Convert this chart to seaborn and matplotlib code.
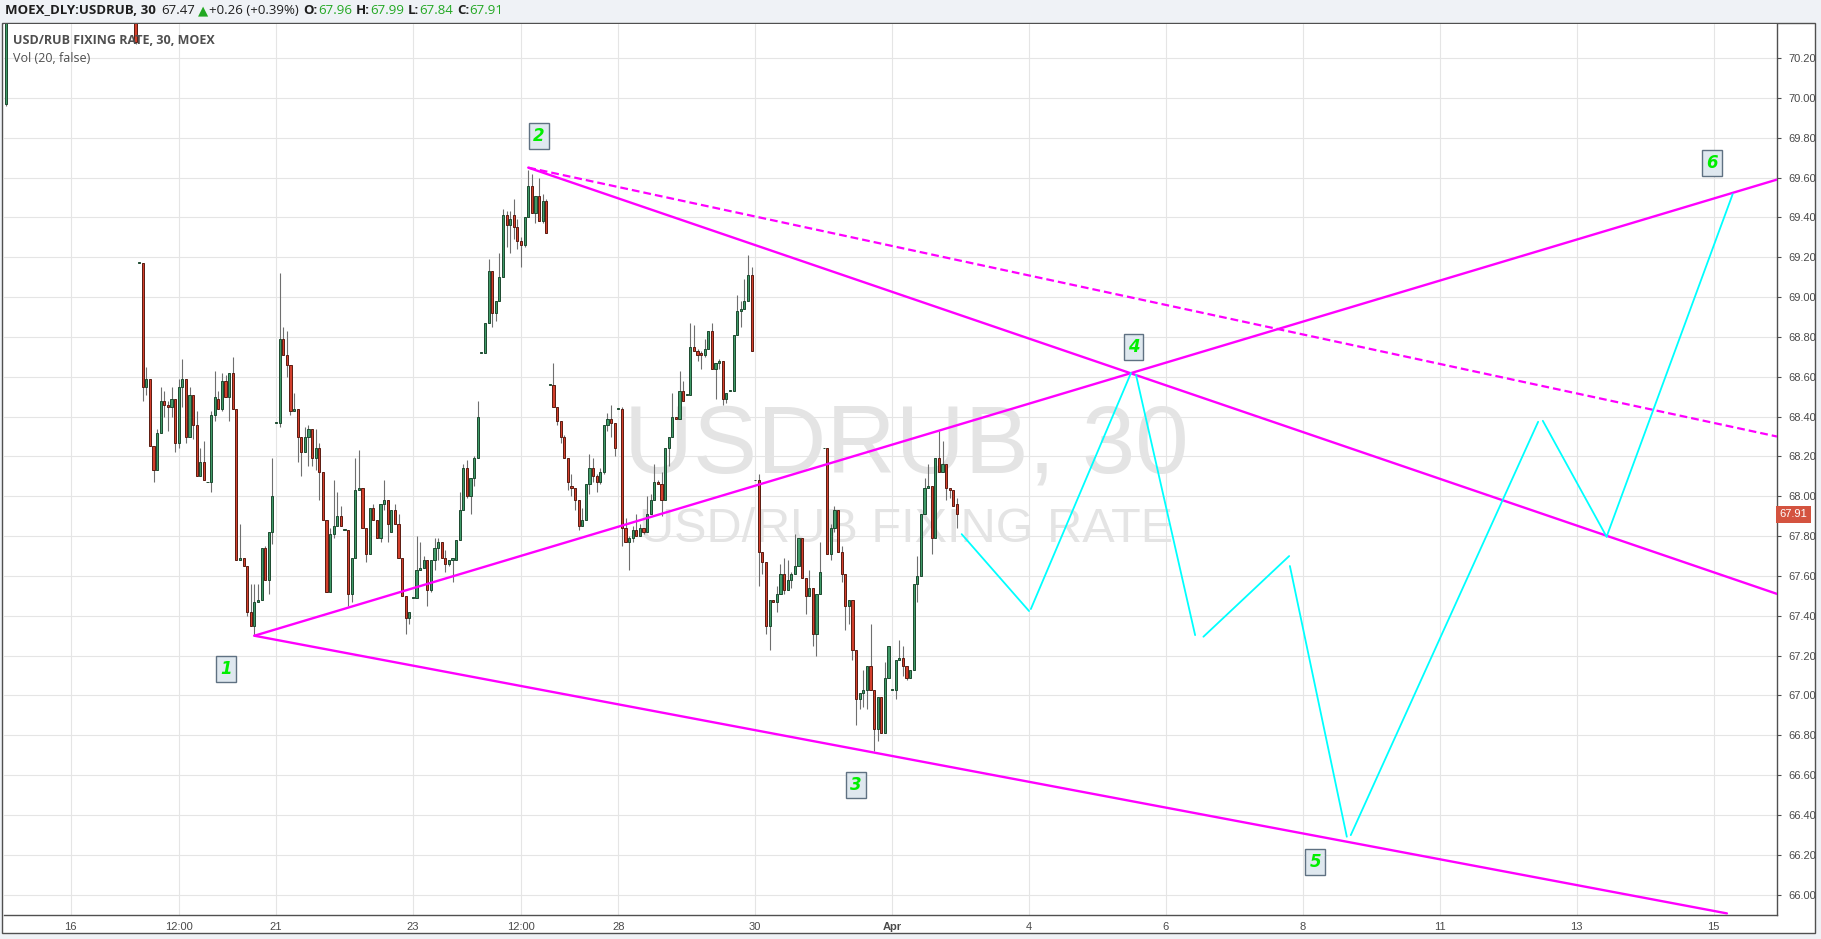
import numpy as np
import pandas as pd
import seaborn as sns
import matplotlib.pyplot as plt
from matplotlib.patches import Rectangle
from matplotlib.transforms import blended_transform_factory

# bar index (30 min bars), 0 = first bar of the 19 March session
bars = [-37, -1] + list(range(228))

opens = [69.97, 70.50,
    69.17, 69.17, 68.55, 68.59, 68.25, 68.13, 68.32, 68.48, 68.46, 68.45,
    68.49, 68.27, 68.55, 68.59, 68.30, 68.51, 68.36, 68.10, 68.17, 68.07,
    68.07, 68.41, 68.49, 68.44, 68.58, 68.50, 68.62, 68.44, 67.68, 67.69,
    67.65, 67.42, 67.35, 67.47, 67.48, 67.74, 67.58, 67.82, 68.37, 68.37,
    68.79, 68.71, 68.66, 68.43, 68.44, 68.30, 68.22, 68.30, 68.34, 68.19,
    68.24, 68.12, 67.88, 67.52, 67.81, 67.85, 67.90, 67.83, 67.83, 67.51,
    67.69, 68.03, 68.04, 67.84, 67.71, 67.94, 67.88, 67.79, 67.96, 67.98,
    67.82, 67.93, 67.86, 67.69, 67.50, 67.39, 67.49, 67.49, 67.63, 67.64,
    67.68, 67.53, 67.68, 67.74, 67.77, 67.69, 67.66, 67.68, 67.68, 67.78,
    67.93, 68.14, 68.00, 68.09, 68.19, 68.72, 68.72, 68.87, 69.13, 68.92,
    68.98, 69.10, 69.41, 69.36, 69.41, 69.35, 69.28, 69.26, 69.40, 69.56,
    69.42, 69.51, 69.38, 69.48, 68.56, 68.56, 68.45, 68.38, 68.30, 68.19,
    68.05, 68.04, 67.98, 67.85, 67.88, 68.06, 68.14, 68.10, 68.07, 68.12,
    68.36, 68.39, 68.37, 68.44, 68.44, 67.84, 67.77, 67.79, 67.83, 67.80,
    67.84, 67.82, 67.91, 67.98, 68.07, 68.06, 67.98, 68.24, 68.30, 68.40,
    68.39, 68.53, 68.51, 68.51, 68.75, 68.73, 68.72, 68.71, 68.74, 68.83,
    68.64, 68.67, 68.68, 68.49, 68.53, 68.53, 68.81, 68.93, 68.94, 68.98,
    69.11, 68.08, 68.08, 67.72, 67.67, 67.35, 67.48, 67.47, 67.51, 67.61,
    67.53, 67.58, 67.61, 67.65, 67.79, 67.59, 67.50, 67.54, 67.31, 67.51,
    68.24, 68.24, 67.71, 67.84, 67.93, 67.72, 67.61, 67.45, 67.48, 67.23,
    66.98, 67.01, 67.03, 67.15, 67.03, 66.83, 66.99, 66.81, 67.09, 67.03,
    67.03, 67.18, 67.19, 67.15, 67.09, 67.13, 67.56, 67.60, 67.91, 68.04,
    68.05, 67.79, 68.19, 68.12, 68.16, 68.04, 68.03, 67.96]

highs = [70.50, 70.50,
    69.17, 69.17, 68.65, 68.59, 68.25, 68.34, 68.55, 68.53, 68.48, 68.55,
    68.49, 68.59, 68.69, 68.59, 68.55, 68.51, 68.43, 68.24, 68.28, 68.07,
    68.43, 68.63, 68.53, 68.62, 68.61, 68.62, 68.70, 68.44, 67.86, 67.69,
    67.65, 67.56, 67.56, 67.56, 67.74, 67.75, 67.82, 68.19, 68.37, 69.12,
    68.85, 68.83, 68.66, 68.52, 68.44, 68.30, 68.35, 68.36, 68.34, 68.34,
    68.27, 68.12, 67.88, 67.84, 68.08, 68.02, 67.95, 67.83, 67.83, 67.69,
    68.19, 68.23, 68.04, 67.84, 67.94, 67.96, 67.88, 67.96, 68.08, 67.98,
    67.93, 67.96, 67.91, 67.69, 67.50, 67.42, 67.49, 67.80, 67.77, 67.70,
    67.68, 67.68, 67.79, 67.79, 67.77, 67.73, 67.68, 67.68, 67.78, 68.02,
    68.16, 68.18, 68.09, 68.20, 68.48, 68.72, 68.87, 69.19, 69.13, 68.98,
    69.22, 69.44, 69.43, 69.43, 69.49, 69.39, 69.30, 69.40, 69.64, 69.62,
    69.51, 69.60, 69.52, 69.49, 68.56, 68.67, 68.45, 68.38, 68.31, 68.19,
    68.11, 68.04, 67.98, 67.94, 68.06, 68.21, 68.19, 68.11, 68.14, 68.36,
    68.42, 68.46, 68.37, 68.44, 68.45, 67.89, 67.80, 67.85, 67.91, 67.86,
    67.84, 68.00, 68.01, 68.16, 68.08, 68.12, 68.24, 68.30, 68.52, 68.40,
    68.63, 68.58, 68.51, 68.87, 68.86, 68.74, 68.73, 68.79, 68.83, 68.87,
    68.67, 68.69, 68.68, 68.52, 68.53, 68.81, 69.01, 68.98, 69.09, 69.21,
    69.15, 68.08, 68.11, 67.72, 67.67, 67.48, 67.48, 67.55, 67.66, 67.69,
    67.68, 67.62, 67.81, 67.79, 67.79, 67.59, 67.63, 67.54, 67.51, 67.77,
    68.24, 68.24, 67.86, 67.95, 67.93, 67.75, 67.61, 67.48, 67.48, 67.23,
    67.01, 67.13, 67.15, 67.36, 67.03, 66.99, 66.99, 67.17, 67.25, 67.03,
    67.18, 67.28, 67.25, 67.15, 67.13, 67.56, 67.70, 67.91, 68.09, 68.16,
    68.05, 68.19, 68.33, 68.28, 68.16, 68.04, 68.03, 67.99]

lows = [69.96, 70.27,
    69.17, 68.48, 68.51, 68.25, 68.07, 68.13, 68.32, 68.40, 68.33, 68.40,
    68.22, 68.24, 68.45, 68.27, 68.30, 68.29, 68.10, 68.10, 68.08, 68.07,
    68.02, 68.38, 68.44, 68.43, 68.50, 68.38, 68.44, 67.68, 67.68, 67.65,
    67.40, 67.35, 67.30, 67.47, 67.48, 67.58, 67.51, 67.76, 68.37, 68.35,
    68.71, 68.60, 68.41, 68.43, 68.17, 68.10, 68.22, 68.15, 68.15, 68.13,
    67.98, 67.88, 67.52, 67.52, 67.79, 67.85, 67.85, 67.83, 67.45, 67.47,
    67.69, 68.03, 67.84, 67.67, 67.71, 67.88, 67.79, 67.77, 67.93, 67.77,
    67.82, 67.86, 67.69, 67.50, 67.31, 67.36, 67.49, 67.49, 67.63, 67.64,
    67.45, 67.52, 67.63, 67.68, 67.69, 67.62, 67.65, 67.57, 67.68, 67.78,
    67.93, 67.99, 67.91, 68.05, 68.19, 68.72, 68.72, 68.87, 68.85, 68.88,
    68.98, 69.10, 69.25, 69.22, 69.29, 69.24, 69.15, 69.25, 69.40, 69.42,
    69.37, 69.38, 69.37, 69.32, 68.56, 68.45, 68.36, 68.27, 68.19, 68.03,
    68.00, 67.93, 67.83, 67.85, 67.88, 68.01, 68.07, 68.02, 68.06, 68.11,
    68.33, 68.30, 68.20, 68.44, 67.75, 67.77, 67.63, 67.77, 67.80, 67.80,
    67.81, 67.82, 67.91, 67.98, 68.06, 67.90, 67.98, 68.15, 68.30, 68.39,
    68.39, 68.48, 68.51, 68.51, 68.73, 68.68, 68.64, 68.70, 68.74, 68.64,
    68.49, 68.64, 68.46, 68.47, 68.53, 68.53, 68.81, 68.85, 68.94, 68.98,
    68.73, 68.08, 67.55, 67.61, 67.31, 67.23, 67.47, 67.42, 67.51, 67.51,
    67.53, 67.54, 67.61, 67.65, 67.59, 67.41, 67.50, 67.25, 67.20, 67.51,
    68.24, 67.71, 67.68, 67.82, 67.72, 67.57, 67.33, 67.36, 67.18, 66.85,
    66.93, 66.94, 66.93, 67.03, 66.72, 66.77, 66.81, 66.81, 67.09, 67.03,
    66.98, 67.18, 67.10, 67.08, 67.09, 67.13, 67.47, 67.60, 67.91, 68.04,
    67.71, 67.79, 68.12, 68.12, 67.98, 67.99, 67.95, 67.84]

closes = [70.45, 70.28,
    69.17, 68.55, 68.59, 68.25, 68.13, 68.32, 68.48, 68.46, 68.45, 68.49,
    68.27, 68.55, 68.59, 68.30, 68.51, 68.36, 68.10, 68.17, 68.08, 68.07,
    68.41, 68.50, 68.44, 68.58, 68.50, 68.62, 68.44, 67.68, 67.69, 67.65,
    67.42, 67.35, 67.47, 67.48, 67.74, 67.58, 67.82, 68.00, 68.37, 68.79,
    68.71, 68.66, 68.43, 68.44, 68.30, 68.22, 68.30, 68.34, 68.19, 68.24,
    68.12, 67.88, 67.52, 67.81, 67.85, 67.90, 67.85, 67.83, 67.51, 67.69,
    68.03, 68.04, 67.84, 67.71, 67.94, 67.88, 67.79, 67.96, 67.98, 67.86,
    67.93, 67.86, 67.69, 67.50, 67.39, 67.42, 67.49, 67.63, 67.64, 67.68,
    67.53, 67.68, 67.74, 67.77, 67.69, 67.66, 67.68, 67.69, 67.78, 67.93,
    68.14, 68.00, 68.09, 68.19, 68.40, 68.72, 68.87, 69.13, 68.92, 68.98,
    69.10, 69.41, 69.36, 69.39, 69.35, 69.28, 69.26, 69.40, 69.56, 69.42,
    69.51, 69.38, 69.48, 69.32, 68.56, 68.45, 68.38, 68.30, 68.19, 68.07,
    68.04, 67.98, 67.85, 67.88, 68.06, 68.14, 68.10, 68.07, 68.12, 68.36,
    68.39, 68.37, 68.24, 68.44, 67.84, 67.77, 67.79, 67.83, 67.80, 67.84,
    67.82, 67.91, 67.98, 68.07, 68.06, 67.98, 68.24, 68.30, 68.40, 68.39,
    68.53, 68.48, 68.51, 68.75, 68.73, 68.71, 68.71, 68.74, 68.83, 68.64,
    68.67, 68.68, 68.49, 68.52, 68.53, 68.81, 68.93, 68.94, 68.98, 69.11,
    68.73, 68.08, 67.72, 67.67, 67.35, 67.48, 67.47, 67.51, 67.61, 67.53,
    67.58, 67.61, 67.65, 67.79, 67.59, 67.50, 67.54, 67.31, 67.51, 67.62,
    68.24, 67.71, 67.84, 67.93, 67.72, 67.61, 67.45, 67.48, 67.23, 66.98,
    67.01, 67.03, 67.15, 67.03, 66.83, 66.99, 66.81, 67.09, 67.25, 67.03,
    67.18, 67.19, 67.15, 67.09, 67.13, 67.56, 67.60, 67.91, 68.04, 68.05,
    67.79, 68.19, 68.12, 68.16, 68.04, 68.03, 67.95, 67.91]

# magenta trend lines (start bar, start price, end bar, end price)
trend_names = ["1-4", "1-3", "2-4"]
trend_x0 = [32, 32, 108]
trend_y0 = [67.30, 67.30, 69.65]
trend_x1 = [454.6, 440.7, 454.6]
trend_y1 = [69.59, 65.906, 67.51]
dash_x0, dash_y0, dash_x1, dash_y1 = 108, 69.65, 454.6, 68.30

# cyan projected path, drawn as separate segments
cyan_x0 = [228.3, 247.5, 276.7, 295.4, 319.4, 336.3, 389.6, 407.3]
cyan_y0 = [67.81, 67.434, 68.609, 67.295, 67.65, 66.299, 68.379, 67.797]
cyan_x1 = [247.0, 275.3, 293.1, 319.2, 335.2, 388.3, 407.3, 442.3]
cyan_y1 = [67.424, 68.619, 67.303, 67.70, 66.291, 68.374, 67.797, 69.517]

wave_labels = ["1", "2", "3", "4", "5", "6"]
wave_bar = [24.1, 111.0, 199.0, 276.0, 326.4, 436.6]
wave_price = [67.134, 69.809, 66.55, 68.748, 66.165, 69.673]

price_ticks = [66.00, 66.20, 66.40, 66.60, 66.80, 67.00, 67.20, 67.40, 67.60, 67.80,
               68.00, 68.20, 68.40, 68.60, 68.80, 69.00, 69.20, 69.40, 69.60, 69.80,
               70.00, 70.20]
time_ticks = [-19, 11, 38, 76, 106, 133, 171, 209, 247, 285, 323, 361, 399, 437]
time_labels = ["16", "12:00", "21", "23", "12:00", "28", "30", "Apr",
               "4", "6", "8", "11", "13", "15"]
last_price = 67.91

header_parts = [("MOEX_DLY:USDRUB, 30", "#1e1e1e", "bold", 5),
                ("67.47", "#1e1e1e", "normal", 3),
                ("\u25b2", "#22a822", "normal", 1),
                ("+0.26 (+0.39%)", "#1e1e1e", "normal", 5),
                ("O:", "#1e1e1e", "bold", 0), ("67.96", "#22a822", "normal", 4),
                ("H:", "#1e1e1e", "bold", 0), ("67.99", "#22a822", "normal", 4),
                ("L:", "#1e1e1e", "bold", 0), ("67.84", "#22a822", "normal", 4),
                ("C:", "#1e1e1e", "bold", 0), ("67.91", "#22a822", "normal", 0)]

sns.set_style("white")
plt.rcParams['font.family'] = ['Open Sans', 'DejaVu Sans']

W, H = 1821, 939
fig = plt.figure(figsize=(W / 100, H / 100), dpi=100)
fig.patch.set_facecolor('#eff2f6')


def fx(px):
    return px / W


def fy(py):
    return 1 - py / H


panel = Rectangle((fx(2), fy(933)), fx(1815) - fx(2), fy(23) - fy(933),
                  transform=fig.transFigure, facecolor='white',
                  edgecolor='#505050', lw=1, zorder=-5)
fig.patches.append(panel)

ax = fig.add_axes([fx(4), fy(915), fx(1777) - fx(4), fy(24) - fy(915)])
ax.set_facecolor('white')
ax.set_xlim(-37.5, 454.6)
ax.set_ylim(65.898, 70.371)

# grid + axes
ax.set_axisbelow(True)
ax.grid(True, color='#e5e5e5', lw=0.8)
for s in ['top', 'left']:
    ax.spines[s].set_visible(False)
for s in ['right', 'bottom']:
    ax.spines[s].set_color('#505050')
    ax.spines[s].set_linewidth(1)
ax.yaxis.tick_right()
ax.set_yticks(price_ticks)
ax.set_yticklabels([f"{v:.2f}" for v in price_ticks])
ax.set_xticks(time_ticks)
ax.set_xticklabels(time_labels)
ax.tick_params(axis='y', direction='out', length=3, width=0.8, color='#505050',
               pad=5, labelsize=8, labelcolor='#4a4a4a')
ax.tick_params(axis='x', direction='out', length=3, width=0.8, color='#505050',
               pad=2, labelsize=8, labelcolor='#4a4a4a')
for lbl in ax.get_yticklabels() + ax.get_xticklabels():
    lbl.set_fontfamily('Liberation Sans')
    if lbl.get_text() == 'Apr':
        lbl.set_fontweight('bold')

# watermark
ax.text(0.509, 0.497, "USDRUB, 30", transform=ax.transAxes, ha='center',
        va='baseline', fontsize=69, color='#e4e4e4', family='Liberation Sans', zorder=1)
ax.text(0.509, 0.4186, "USD/RUB FIXING RATE", transform=ax.transAxes, ha='center',
        va='baseline', fontsize=35, color='#e4e4e4', family='Liberation Sans', zorder=1)

# candles
x = np.array(bars)
o = np.array(opens)
h = np.array(highs)
l = np.array(lows)
c = np.array(closes)
up = c >= o
body_lo = np.minimum(o, c)
body_h = np.maximum(np.abs(c - o), 0.004)
ax.vlines(x, l, h, color='#6f6f6f', lw=0.8, zorder=2)
ax.bar(x[up], body_h[up], bottom=body_lo[up], width=0.6, color='#3f9a68',
       edgecolor='#1d4a30', linewidth=0.7, zorder=3)
ax.bar(x[~up], body_h[~up], bottom=body_lo[~up], width=0.6, color='#d33f2c',
       edgecolor='#5a1c12', linewidth=0.7, zorder=3)

# trend lines
trend_df = pd.DataFrame({
    "line": trend_names * 2,
    "bar": trend_x0 + trend_x1,
    "price": trend_y0 + trend_y1,
})
sns.lineplot(data=trend_df, x="bar", y="price", units="line", estimator=None,
             sort=False, color='#ff00ff', lw=1.7, ax=ax, legend=False, zorder=4)
dash_df = pd.DataFrame({"bar": [dash_x0, dash_x1], "price": [dash_y0, dash_y1]})
sns.lineplot(data=dash_df, x="bar", y="price", estimator=None, sort=False,
             color='#ff00ff', lw=1.6, linestyle=(0, (3.5, 1.8)), ax=ax,
             legend=False, zorder=4)

seg_ids = list(range(len(cyan_x0)))
cyan_df = pd.DataFrame({
    "seg": seg_ids * 2,
    "bar": cyan_x0 + cyan_x1,
    "price": cyan_y0 + cyan_y1,
})
sns.lineplot(data=cyan_df, x="bar", y="price", units="seg", estimator=None,
             sort=False, color='#00ffff', lw=1.3, ax=ax, legend=False, zorder=4)
ax.set_xlabel("")
ax.set_ylabel("")

# wave labels
for lab, bx, py in zip(wave_labels, wave_bar, wave_price):
    ax.text(bx, py, lab, ha='center', va='center', fontsize=12, color='#00ee00',
            fontweight='bold', fontstyle='italic', family='DejaVu Sans', zorder=6,
            bbox=dict(boxstyle='square,pad=0.25', fc='#dfe8ef', ec='#5f7182', lw=1))

# last price tag
tr = blended_transform_factory(ax.transAxes, ax.transData)
ax.text(1.0015, last_price, f"{last_price:.2f}", transform=tr, ha='left',
        va='center', fontsize=8, color='white', family='Liberation Sans', zorder=7,
        bbox=dict(boxstyle='square,pad=0.3', fc='#d4533f', ec='none'))

# legend texts on chart
fig.text(fx(13), fy(41), "USD/RUB FIXING RATE, 30, MOEX", fontsize=9,
         fontweight='bold', color='#4f4f4f', va='center', ha='left')
fig.text(fx(13), fy(58), "Vol (20, false)", fontsize=9, color='#4f4f4f',
         va='center', ha='left')

# header line
renderer = fig.canvas.get_renderer()
xpos = 5
for txt, col, wt, gap in header_parts:
    t = fig.text(fx(xpos), fy(11), txt, fontsize=9.5, fontweight=wt, color=col,
                 va='center', ha='left')
    bb = t.get_window_extent(renderer)
    xpos = bb.x1 + gap

fig.savefig("out.png", dpi=100, facecolor=fig.get_facecolor())
